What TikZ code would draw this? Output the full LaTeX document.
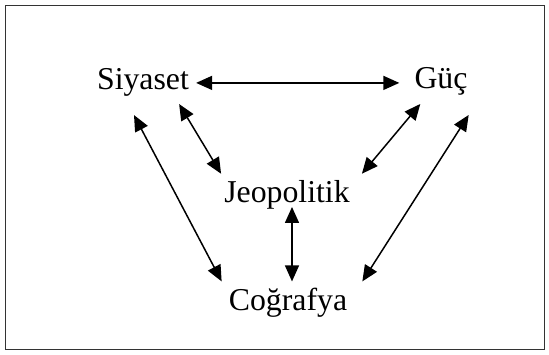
\documentclass[tikz,border=0pt]{standalone}
\usepackage{fontspec}
\setmainfont{Liberation Serif}
\usetikzlibrary{arrows.meta}

\begin{document}
\begin{tikzpicture}[x=1pt,y=-1pt,
		term/.style={inner sep=0pt, anchor=base, font=\fontsize{31.8}{36}\selectfont},
		link/.style={line width=1.5pt, {Triangle[length=16pt,width=14pt]}-{Triangle[length=16pt,width=14pt]}}]
			% FRAME
			\useasboundingbox (0,0) rectangle (549,354);
			\draw[line width=1pt, black!80] (5,5) rectangle (544,349);

			% TERMS
			\node[term] (siy) at (143,89) {Siyaset};
			\node[term] (guc) at (441,88) {Güç};
			\node[term] (jeo) at (287,202) {Jeopolitik};
			\node[term] (cog) at (288,310) {Coğrafya};

			% LINKS
			\draw [link] ([shift={(7,1)}]siy.east) -- ([shift={(-15,1)}]siy.east -| guc.west);
			\draw [link] ([shift={(-10,8)}]siy.south east) -- ([shift={(-3,-6)}]jeo.north west);
			\draw [link] ([shift={(6,9)}]guc.south west) -- ([shift={(12,-6)}]jeo.north east);
			\draw [link] ([shift={(-9,19)}]siy.south) -- ([shift={(-7,-6)}]cog.north west);
			\draw [link] ([shift={(1,20)}]guc.south east) -- ([shift={(15,-6)}]cog.north east);
			\draw [link] ([shift={(5,-2)}]jeo.south) -- ([shift={(4,-6)}]cog.north);
		\end{tikzpicture}
\end{document}
